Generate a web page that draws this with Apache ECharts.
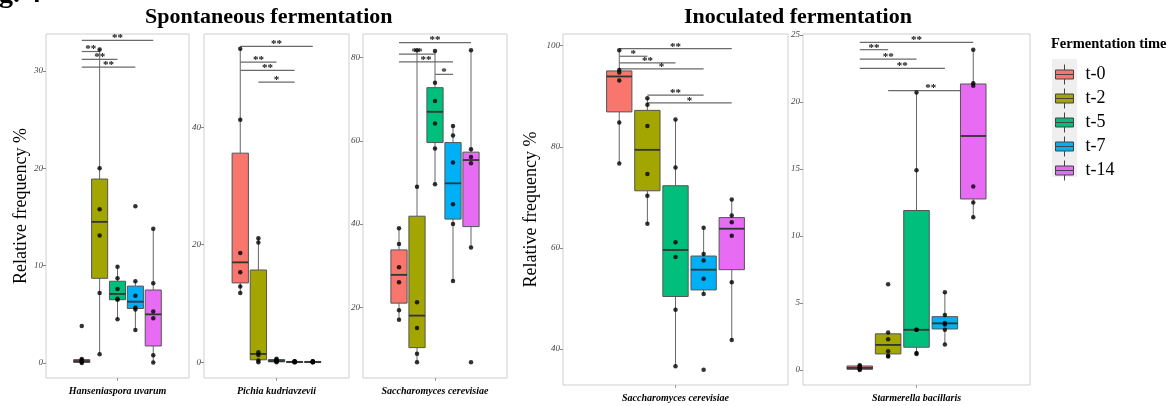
<!DOCTYPE html>
<html>
<head>
<meta charset="utf-8">
<script src="https://cdn.jsdelivr.net/npm/echarts@6/dist/echarts.min.js"></script>
<style>
html,body{margin:0;padding:0;background:#fff;}
#c{width:1173px;height:406px;}
</style>
</head>
<body>
<div id="c"></div>
<script>
// ---------------- data ----------------
const times = ['t-0', 't-2', 't-5', 't-7', 't-14'];
const colors = ['#F8766D', '#A3A500', '#00BF7D', '#00B0F6', '#E76BF3'];
const species = ['Hanseniaspora uvarum', 'Pichia kudriavzevii', 'Saccharomyces cerevisiae', 'Saccharomyces cerevisiae', 'Starmerella bacillaris'];
const groupTitles = ['Spontaneous fermentation', 'Inoculated fermentation'];
const legendTitle = 'Fermentation time';
const yName = 'Relative frequency %';

// box stats: [lower whisker, Q1, median, Q3, upper whisker]
const huBox = [[0.0, 0.05, 0.2, 0.35, 0.45], [0.9, 8.7, 14.5, 18.9, 32.2], [4.5, 6.5, 7.1, 8.4, 9.9], [3.4, 5.6, 6.3, 7.9, 8.4], [0.05, 1.75, 5.0, 7.5, 13.8]];
const huPts = [[3.8, 0.4, 0.3, 0.2, 0.1, 0.0], [32.2, 20.0, 15.8, 13.1, 7.2, 0.9], [9.9, 8.7, 7.6, 6.6, 6.5, 4.5], [16.1, 8.4, 6.9, 5.7, 5.5, 3.4], [13.8, 8.2, 5.3, 4.6, 0.8, 0.05]];
const huSig = [[0, 4, 33.15, '**'], [0, 1, 32.0, '**'], [0, 2, 31.2, '**'], [0, 3, 30.4, '**']];
const huTicks = [0, 10, 20, 30];

const pkBox = [[11.8, 13.5, 17.0, 35.6, 53.4], [0.0, 0.4, 1.4, 15.7, 21.1], [0.0, 0.05, 0.2, 0.45, 0.6], [0.0, 0.02, 0.05, 0.1, 0.15], [0.0, 0.02, 0.05, 0.1, 0.15]];
const pkPts = [[53.4, 41.3, 18.6, 15.3, 12.9, 11.8], [21.1, 20.4, 1.7, 1.2, 0.3, 0.0], [0.6, 0.4, 0.3, 0.2, 0.1, 0.0], [0.15, 0.1, 0.05, 0.05, 0.0, 0.0], [0.15, 0.1, 0.05, 0.05, 0.0, 0.0]];
const pkSig = [[0, 4, 53.8, '**'], [0, 2, 51.1, '**'], [0, 3, 49.7, '**'], [1, 3, 47.7, '*']];
const pkTicks = [0, 20, 40];

const scsBox = [[17.0, 21.0, 27.8, 33.8, 39.0], [6.8, 10.3, 18.0, 41.9, 81.8], [49.6, 59.6, 67.0, 72.8, 81.6], [26.3, 41.2, 49.8, 59.6, 63.6], [34.4, 39.4, 55.4, 57.3, 81.8]];
const scsPts = [[39.0, 35.2, 29.6, 26.0, 19.3, 17.0], [81.8, 49.0, 21.2, 15.0, 8.8, 6.8], [81.6, 74.0, 69.6, 64.2, 58.2, 49.6], [63.6, 61.3, 54.8, 44.8, 40.0, 26.3], [81.8, 58.0, 56.1, 54.6, 34.4, 6.8]];
const scsSig = [[0, 4, 83.65, '**'], [0, 2, 80.85, '**'], [0, 3, 79.0, '**'], [2, 3, 76.0, '*']];
const scsTicks = [20, 40, 60, 80];

const sciBox = [[76.7, 86.9, 93.9, 95.0, 99.1], [64.8, 71.3, 79.4, 87.2, 89.6], [36.6, 50.4, 59.6, 72.3, 85.4], [50.9, 51.7, 55.7, 58.4, 64.0], [41.8, 55.7, 63.8, 66.0, 69.6]];
const sciPts = [[99.1, 95.2, 94.7, 93.1, 84.8, 76.7], [89.6, 88.3, 84.1, 74.6, 70.3, 64.8], [85.4, 75.9, 61.1, 58.2, 47.8, 36.6], [64.0, 58.8, 57.5, 53.9, 50.9, 35.9], [69.6, 66.4, 65.1, 62.4, 53.2, 41.8]];
const sciSig = [[0, 4, 99.4, '**'], [0, 1, 97.9, '*'], [0, 2, 96.6, '**'], [0, 3, 95.4, '*'], [1, 3, 90.2, '**'], [1, 4, 88.7, '*']];
const sciTicks = [40, 60, 80, 100];

const sbBox = [[0.0, 0.05, 0.15, 0.3, 0.35], [0.95, 1.2, 1.87, 2.7, 2.8], [1.2, 1.7, 3.0, 11.9, 20.7], [1.94, 3.06, 3.48, 3.98, 5.8], [11.37, 12.76, 17.46, 21.34, 23.9]];
const sbPts = [[0.35, 0.3, 0.2, 0.15, 0.05, 0.0], [6.4, 2.8, 2.3, 1.4, 1.07, 1.0], [20.7, 14.9, 3.0, 3.0, 1.27, 1.2], [5.8, 4.1, 3.5, 3.4, 3.0, 1.9], [23.9, 21.4, 21.2, 13.7, 12.5, 11.4]];
const sbSig = [[0, 4, 24.45, '**'], [0, 1, 23.9, '**'], [0, 2, 23.2, '**'], [0, 3, 22.5, '**'], [1, 4, 20.85, '**']];
const sbTicks = [0, 5, 10, 15, 20, 25];

const yRanges = [[-1.54, 33.8], [-2.7, 55.9], [3.0, 85.7], [32.9, 102.3], [-1.12, 25.07]];

// ---------------- layout / style ----------------
const SERIF = '"Liberation Serif", "Times New Roman", serif';
const panels = [
  { box: huBox, pts: huPts, sig: huSig, ticks: huTicks, grid: { left: 46, top: 34, width: 143, height: 344 }, name: true, nameGap: 11 },
  { box: pkBox, pts: pkPts, sig: pkSig, ticks: pkTicks, grid: { left: 204, top: 34, width: 145, height: 344 } },
  { box: scsBox, pts: scsPts, sig: scsSig, ticks: scsTicks, grid: { left: 363, top: 34, width: 144, height: 344 } },
  { box: sciBox, pts: sciPts, sig: sciSig, ticks: sciTicks, grid: { left: 563, top: 34, width: 225, height: 351 }, name: true, nameGap: 23 },
  { box: sbBox, pts: sbPts, sig: sbSig, ticks: sbTicks, grid: { left: 803, top: 34, width: 227, height: 351 } }
];

const grids = [], xAxes = [], yAxes = [], series = [];
panels.forEach((p, i) => {
  grids.push(Object.assign({ show: true, borderColor: '#cfcfcf', borderWidth: 1, backgroundColor: '#ffffff', containLabel: false }, p.grid));
  xAxes.push({
    gridIndex: i, type: 'value', min: -2, max: 6, position: 'bottom',
    axisLine: { show: false, onZero: false }, splitLine: { show: false },
    axisTick: { show: true, customValues: [2], length: 3, lineStyle: { color: '#999' } },
    axisLabel: { show: true, customValues: [2], formatter: () => species[i], fontFamily: SERIF, fontStyle: 'italic', fontWeight: 'bold', fontSize: 10, color: '#000', margin: 8 }
  });
  const y = {
    gridIndex: i, type: 'value', min: yRanges[i][0], max: yRanges[i][1], position: 'left',
    axisLine: { show: false, onZero: false }, splitLine: { show: false },
    axisTick: { show: true, customValues: p.ticks, length: 3, lineStyle: { color: '#888' } },
    axisLabel: { show: true, customValues: p.ticks, fontFamily: SERIF, fontStyle: 'italic', fontSize: 9, color: '#444', margin: 3 }
  };
  if (p.name) {
    Object.assign(y, { name: yName, nameLocation: 'middle', nameGap: p.nameGap, nameTextStyle: { fontFamily: SERIF, fontSize: 18, color: '#000' } });
  }
  yAxes.push(y);

  // significance brackets
  const sig = p.sig;
  series.push({
    type: 'custom', name: 'sig' + i, xAxisIndex: i, yAxisIndex: i, z: 1, silent: true,
    data: sig.map(s => [s[0], s[1], s[2]]),
    renderItem: (params, api) => {
      const a = api.coord([api.value(0), api.value(2)]);
      const b = api.coord([api.value(1), api.value(2)]);
      return {
        type: 'group', children: [
          { type: 'line', shape: { x1: a[0], y1: a[1], x2: b[0], y2: b[1] }, style: { stroke: '#6a6a6a', lineWidth: 1.2 } },
          { type: 'text', x: (a[0] + b[0]) / 2, y: a[1] - 2, style: { text: sig[params.dataIndex][3], textAlign: 'center', textVerticalAlign: 'middle', font: 'bold 11px ' + SERIF, fill: '#111' } }
        ]
      };
    }
  });

  // boxes: one series per fermentation time
  p.box.forEach((b, j) => {
    series.push({
      type: 'custom', name: times[j], xAxisIndex: i, yAxisIndex: i, z: 2,
      itemStyle: { color: colors[j], borderColor: '#444', borderWidth: 1 },
      data: [[j].concat(b)],
      renderItem: (params, api) => {
        const x = api.value(0);
        const lo = api.coord([x, api.value(1)]);
        const q1 = api.coord([x, api.value(2)]);
        const md = api.coord([x, api.value(3)]);
        const q3 = api.coord([x, api.value(4)]);
        const hi = api.coord([x, api.value(5)]);
        const w = api.size([0.9, 0])[0];
        return {
          type: 'group', children: [
            { type: 'line', shape: { x1: lo[0], y1: lo[1], x2: q1[0], y2: q1[1] }, style: { stroke: '#666', lineWidth: 1 } },
            { type: 'line', shape: { x1: q3[0], y1: q3[1], x2: hi[0], y2: hi[1] }, style: { stroke: '#666', lineWidth: 1 } },
            { type: 'rect', shape: { x: q1[0] - w / 2, y: q3[1], width: w, height: Math.max(q1[1] - q3[1], 1) }, style: { fill: colors[j], stroke: '#555', lineWidth: 1 } },
            { type: 'line', shape: { x1: md[0] - w / 2, y1: md[1], x2: md[0] + w / 2, y2: md[1] }, style: { stroke: '#333', lineWidth: 1.8 } }
          ]
        };
      }
    });
  });

  // raw points
  const pts = [];
  p.pts.forEach((arr, j) => arr.forEach(v => pts.push([j, v])));
  series.push({
    type: 'scatter', name: 'pts' + i, xAxisIndex: i, yAxisIndex: i, z: 3, silent: true,
    symbol: 'circle', symbolSize: 4.5, itemStyle: { color: '#000' }, data: pts
  });
});

const option = {
  animation: false,
  backgroundColor: '#ffffff',
  title: [
    { text: 'g. 4', left: -1, top: -19, padding: 0, textStyle: { fontFamily: SERIF, fontWeight: 'bold', fontSize: 28, color: '#000' } },
    { text: groupTitles[0], left: 145, top: 6, padding: 0, textStyle: { fontFamily: SERIF, fontWeight: 'bold', fontSize: 22, color: '#000' } },
    { text: groupTitles[1], left: 684, top: 6, padding: 0, textStyle: { fontFamily: SERIF, fontWeight: 'bold', fontSize: 22, color: '#000' } },
    { text: legendTitle, left: 1051, top: 37, padding: 0, textStyle: { fontFamily: SERIF, fontWeight: 'bold', fontSize: 14.5, color: '#000' } }
  ],
  graphic: [
    { type: 'rect', left: 1052, top: 59, shape: { width: 25, height: 118 }, style: { fill: '#efefef' }, z: -1, silent: true }
  ],
  legend: {
    data: times, orient: 'vertical', left: 1055, top: 64, padding: 0,
    itemWidth: 18, itemHeight: 20, itemGap: 3,
    icon: 'path://M0,11L36,11L36,29L0,29Z M0,20L36,20 M18,0L18,11 M18,29L18,40',
    itemStyle: { borderColor: '#444', borderWidth: 1 },
    textStyle: { fontFamily: SERIF, fontSize: 18, color: '#000', padding: [0, 0, 0, 7] },
    selectedMode: false
  },
  grid: grids, xAxis: xAxes, yAxis: yAxes, series: series
};

const chart = echarts.init(document.getElementById('c'), null, { renderer: 'canvas' });
chart.setOption(option);
</script>
</body>
</html>
